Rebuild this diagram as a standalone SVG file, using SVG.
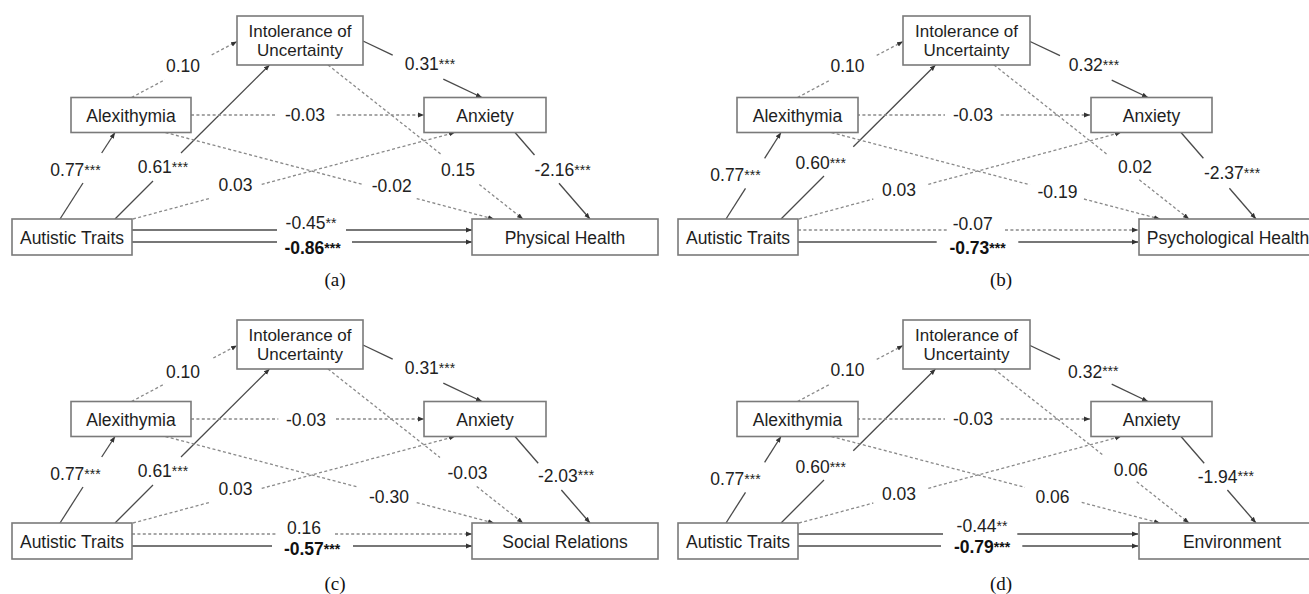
<svg xmlns="http://www.w3.org/2000/svg" width="1309" height="594" viewBox="0 0 1309 594">
<defs>
<style>
.box{fill:#fff;stroke:#7a7a7a;stroke-width:1.6}
.nt{font-family:"Liberation Sans",Arial,sans-serif;font-size:17.5px;fill:#1e1e1e;text-anchor:middle}
.nt2{font-family:"Liberation Sans",Arial,sans-serif;font-size:17px;fill:#1e1e1e;text-anchor:middle}
.lb{font-family:"Liberation Sans",Arial,sans-serif;font-size:17.5px;fill:#222;text-anchor:middle}
.bd{font-weight:bold;fill:#111}
.st{font-size:14px}
.s{fill:none;stroke:#4a4a4a;stroke-width:1.3}
.d{fill:none;stroke:#8a8a8a;stroke-width:1.3;stroke-dasharray:3 2.4}
.m{marker-end:url(#ah)}
.cap{font-family:"Liberation Serif","Times New Roman",serif;font-size:19px;fill:#111;text-anchor:middle}
</style>
<marker id="ah" viewBox="0 0 6 6" refX="6" refY="3" markerWidth="6" markerHeight="6" markerUnits="userSpaceOnUse" orient="auto"><path d="M0,0.6 L6,3 L0,5.4 z" fill="#333"/></marker>
</defs>
<rect width="1309" height="594" fill="#fff"/>

<!-- Panel (a) -->
<g id="panel-a">
<g id="a-connectors">
<path class="s" d="M60,219 L83,183"/><path class="s m" d="M101.7,153 L115,132.5"/>
<path class="s" d="M115,219 L153,181"/><path class="s m" d="M181,153 L269.5,65"/>
<path class="d" d="M131.5,97.5 L165,79.7"/><path class="d m" d="M211.7,54.9 L237,41.5"/>
<path class="d" d="M191,115 L275,115"/><path class="d m" d="M336.7,115 L424,115"/>
<path class="s" d="M363,41 L392.7,55.1"/><path class="s m" d="M443.3,79.1 L482,97.5"/>
<path class="d" d="M133,219 L210,198.3"/><path class="d m" d="M261.7,184.4 L455,132.5"/>
<path class="d" d="M165.5,132.5 L363,184.5"/><path class="d m" d="M416.7,198.6 L494,219"/>
<path class="d" d="M328,65 L441.7,154.8"/><path class="d m" d="M479.3,184.5 L523,219"/>
<path class="s" d="M515,132.5 L534.5,155"/><path class="s m" d="M559,183.3 L590,219"/>
<path class="s" d="M132,230 L277,230"/><path class="s m" d="M346,230 L472,230"/>
<path class="s" d="M132,242 L277,242"/><path class="s m" d="M352,242 L472,242"/>
<text class="lb" x="75.5" y="176">0.77<tspan class="st" dy="-1.5">***</tspan></text>
<text class="lb" x="163" y="173">0.61<tspan class="st" dy="-1.5">***</tspan></text>
<text class="lb" x="183" y="72">0.10</text>
<text class="lb" x="305" y="121">-0.03</text>
<text class="lb" x="430" y="70">0.31<tspan class="st" dy="-1.5">***</tspan></text>
<text class="lb" x="235.5" y="191">0.03</text>
<text class="lb" x="391.7" y="192">-0.02</text>
<text class="lb" x="458" y="176">0.15</text>
<text class="lb" x="562.5" y="176">-2.16<tspan class="st" dy="-1.5">***</tspan></text>
<text class="lb" x="311" y="229">-0.45<tspan class="st" dy="-1.5">**</tspan></text>
<text class="lb bd" x="312.5" y="254">-0.86<tspan class="st" dy="-1.5">***</tspan></text>
</g>
<g id="a-iu"><rect class="box" x="237" y="16" width="126" height="49"/><text class="nt2" x="300" y="36.5">Intolerance of</text><text class="nt2" x="300" y="56">Uncertainty</text></g>
<g id="a-alex"><rect class="box" x="71" y="97.5" width="120" height="35"/><text class="nt" x="131" y="121.5">Alexithymia</text></g>
<g id="a-anx"><rect class="box" x="424" y="97.5" width="122" height="35"/><text class="nt" x="485" y="121.5">Anxiety</text></g>
<g id="a-at"><rect class="box" x="12" y="219" width="120" height="36"/><text class="nt" x="72" y="244">Autistic Traits</text></g>
<g id="a-out"><rect class="box" x="472" y="219" width="186" height="36"/><text class="nt" x="565" y="244">Physical Health</text></g>
<text class="cap" x="335" y="286">(a)</text>
</g>

<!-- Panel (b) -->
<g id="panel-b" transform="translate(666,0)">
<g id="b-connectors">
<path class="s" d="M60,219 L79.5,188.3"/><path class="s m" d="M98.6,158.3 L115,132.5"/>
<path class="s" d="M115,219 L158,176"/><path class="s m" d="M187.3,146.7 L269.5,65"/>
<path class="d" d="M131.5,97.5 L164,80.2"/><path class="d m" d="M210.7,55.4 L237,41.5"/>
<path class="d" d="M191,115 L279,115"/><path class="d m" d="M334.7,115 L424,115"/>
<path class="s" d="M363,41 L394,55.7"/><path class="s m" d="M445.7,80.2 L482,97.5"/>
<path class="d" d="M133,219 L207.3,199"/><path class="d m" d="M262.3,184.3 L455,132.5"/>
<path class="d" d="M165.5,132.5 L364,184.8"/><path class="d m" d="M418,199 L494,219"/>
<path class="d" d="M328,65 L442.3,155.3"/><path class="d m" d="M473.3,179.8 L523,219"/>
<path class="s" d="M515,132.5 L537.4,158.3"/><path class="s m" d="M563.4,188.3 L590,219"/>
<path class="d" d="M132,230 L280.7,230"/><path class="d m" d="M339,230 L472,230"/>
<path class="s" d="M132,242 L270.7,242"/><path class="s m" d="M352.3,242 L472,242"/>
<text class="lb" x="69.5" y="181">0.77<tspan class="st" dy="-1.5">***</tspan></text>
<text class="lb" x="154.8" y="169.3">0.60<tspan class="st" dy="-1.5">***</tspan></text>
<text class="lb" x="181.5" y="72">0.10</text>
<text class="lb" x="307" y="121">-0.03</text>
<text class="lb" x="428" y="71">0.32<tspan class="st" dy="-1.5">***</tspan></text>
<text class="lb" x="233" y="196">0.03</text>
<text class="lb" x="391.5" y="197.7">-0.19</text>
<text class="lb" x="469" y="172.7">0.02</text>
<text class="lb" x="566" y="179">-2.37<tspan class="st" dy="-1.5">***</tspan></text>
<text class="lb" x="306.7" y="230">-0.07</text>
<text class="lb bd" x="311.5" y="254">-0.73<tspan class="st" dy="-1.5">***</tspan></text>
</g>
<g id="b-iu"><rect class="box" x="237" y="16" width="127" height="49"/><text class="nt2" x="300.5" y="36.5">Intolerance of</text><text class="nt2" x="300.5" y="56">Uncertainty</text></g>
<g id="b-alex"><rect class="box" x="71" y="97.5" width="121" height="35"/><text class="nt" x="131.5" y="121.5">Alexithymia</text></g>
<g id="b-anx"><rect class="box" x="425" y="97.5" width="121" height="35"/><text class="nt" x="485.5" y="121.5">Anxiety</text></g>
<g id="b-at"><rect class="box" x="12" y="219" width="120" height="36"/><text class="nt" x="72" y="244">Autistic Traits</text></g>
<g id="b-out"><rect class="box" x="473" y="219" width="186" height="36"/><text class="nt" x="562" y="244">Psychological Health</text></g>
<text class="cap" x="335" y="286">(b)</text>
</g>

<!-- Panel (c) -->
<g id="panel-c" transform="translate(0,304)">
<g id="c-connectors">
<path class="s" d="M60,219 L83,183"/><path class="s m" d="M101.7,153 L115,132.5"/>
<path class="s" d="M115,219 L153,181"/><path class="s m" d="M181,153 L269.5,65"/>
<path class="d" d="M131.5,97.5 L165,79.7"/><path class="d m" d="M213.3,54 L237,41.5"/>
<path class="d" d="M191,115 L278.3,115"/><path class="d m" d="M336,115 L424,115"/>
<path class="s" d="M363,41 L392.7,55.1"/><path class="s m" d="M443.3,79.1 L482,97.5"/>
<path class="d" d="M133,219 L210,198.3"/><path class="d m" d="M261.7,184.4 L455,132.5"/>
<path class="d" d="M165.5,132.5 L356.7,182.8"/><path class="d m" d="M416.7,198.6 L494,219"/>
<path class="d" d="M328,65 L440,153.5"/><path class="d m" d="M476.7,182.5 L523,219"/>
<path class="s" d="M515,132.5 L538.2,159.3"/><path class="s m" d="M561.4,186 L590,219"/>
<path class="d" d="M132,230 L277,230"/><path class="d m" d="M335,230 L472,230"/>
<path class="s" d="M132,242 L272,242"/><path class="s m" d="M353,242 L472,242"/>
<text class="lb" x="75.5" y="176">0.77<tspan class="st" dy="-1.5">***</tspan></text>
<text class="lb" x="163" y="173">0.61<tspan class="st" dy="-1.5">***</tspan></text>
<text class="lb" x="183" y="73.7">0.10</text>
<text class="lb" x="306" y="121.5">-0.03</text>
<text class="lb" x="430" y="70">0.31<tspan class="st" dy="-1.5">***</tspan></text>
<text class="lb" x="235.5" y="191">0.03</text>
<text class="lb" x="389" y="198.7">-0.30</text>
<text class="lb" x="467.5" y="174.5">-0.03</text>
<text class="lb" x="566" y="177.5">-2.03<tspan class="st" dy="-1.5">***</tspan></text>
<text class="lb" x="304" y="229.5">0.16</text>
<text class="lb bd" x="312" y="251">-0.57<tspan class="st" dy="-1.5">***</tspan></text>
</g>
<g id="c-iu"><rect class="box" x="237" y="16" width="126" height="49"/><text class="nt2" x="300" y="36.5">Intolerance of</text><text class="nt2" x="300" y="56">Uncertainty</text></g>
<g id="c-alex"><rect class="box" x="71" y="97.5" width="120" height="35"/><text class="nt" x="131" y="121.5">Alexithymia</text></g>
<g id="c-anx"><rect class="box" x="424" y="97.5" width="122" height="35"/><text class="nt" x="485" y="121.5">Anxiety</text></g>
<g id="c-at"><rect class="box" x="12" y="219" width="120" height="36"/><text class="nt" x="72" y="244">Autistic Traits</text></g>
<g id="c-out"><rect class="box" x="472" y="219" width="186" height="36"/><text class="nt" x="565" y="244">Social Relations</text></g>
<text class="cap" x="335" y="286">(c)</text>
</g>

<!-- Panel (d) -->
<g id="panel-d" transform="translate(666,304)">
<g id="d-connectors">
<path class="s" d="M60,219 L79.5,188.3"/><path class="s m" d="M98.6,158.3 L115,132.5"/>
<path class="s" d="M115,219 L158,176"/><path class="s m" d="M187.3,146.7 L269.5,65"/>
<path class="d" d="M131.5,97.5 L164,80.2"/><path class="d m" d="M210.7,55.4 L237,41.5"/>
<path class="d" d="M191,115 L279,115"/><path class="d m" d="M334.7,115 L424,115"/>
<path class="s" d="M363,41 L394,55.7"/><path class="s m" d="M445.7,80.2 L482,97.5"/>
<path class="d" d="M133,219 L207.3,199"/><path class="d m" d="M262.3,184.3 L455,132.5"/>
<path class="d" d="M165.5,132.5 L359,183.4"/><path class="d m" d="M415.7,198.4 L494,219"/>
<path class="d" d="M328,65 L437.3,151.3"/><path class="d m" d="M470.7,177.7 L523,219"/>
<path class="s" d="M515,132.5 L538.2,159.3"/><path class="s m" d="M561.4,186 L590,219"/>
<path class="s" d="M132,230 L277,230"/><path class="s m" d="M351.3,230 L472,230"/>
<path class="s" d="M132,242 L275,242"/><path class="s m" d="M356.3,242 L472,242"/>
<text class="lb" x="69.5" y="181">0.77<tspan class="st" dy="-1.5">***</tspan></text>
<text class="lb" x="154.8" y="169.3">0.60<tspan class="st" dy="-1.5">***</tspan></text>
<text class="lb" x="181.5" y="72">0.10</text>
<text class="lb" x="307" y="121">-0.03</text>
<text class="lb" x="427.3" y="73.7">0.32<tspan class="st" dy="-1.5">***</tspan></text>
<text class="lb" x="233" y="196">0.03</text>
<text class="lb" x="386.5" y="198.7">0.06</text>
<text class="lb" x="464.8" y="171.7">0.06</text>
<text class="lb" x="559.8" y="178.7">-1.94<tspan class="st" dy="-1.5">***</tspan></text>
<text class="lb" x="316" y="228">-0.44<tspan class="st" dy="-1.5">**</tspan></text>
<text class="lb bd" x="316" y="249">-0.79<tspan class="st" dy="-1.5">***</tspan></text>
</g>
<g id="d-iu"><rect class="box" x="237" y="16" width="127" height="49"/><text class="nt2" x="300.5" y="36.5">Intolerance of</text><text class="nt2" x="300.5" y="56">Uncertainty</text></g>
<g id="d-alex"><rect class="box" x="71" y="97.5" width="121" height="35"/><text class="nt" x="131.5" y="121.5">Alexithymia</text></g>
<g id="d-anx"><rect class="box" x="425" y="97.5" width="121" height="35"/><text class="nt" x="485.5" y="121.5">Anxiety</text></g>
<g id="d-at"><rect class="box" x="12" y="219" width="120" height="36"/><text class="nt" x="72" y="244">Autistic Traits</text></g>
<g id="d-out"><rect class="box" x="473" y="219" width="186" height="36"/><text class="nt" x="566" y="244">Environment</text></g>
<text class="cap" x="335" y="286">(d)</text>
</g>
</svg>
